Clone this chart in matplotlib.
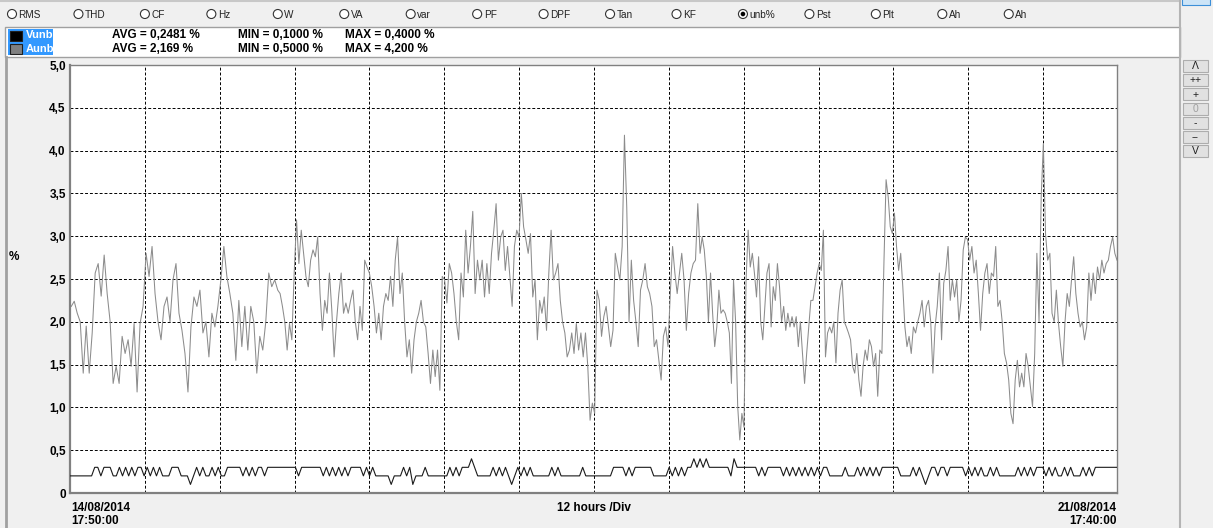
import numpy as np
import matplotlib
matplotlib.use("Agg")
import matplotlib.pyplot as plt
from matplotlib.patches import Rectangle, Circle

# ---- data ----
# Aunb (%), one list per ~34 h stretch of the record
aunb_1 = [2.18, 2.24, 2.10, 2.00, 1.40, 1.95, 1.40, 1.87, 2.57, 2.68, 2.30, 2.78, 2.33, 2.00, 1.28, 1.48, 1.28,
          1.83, 1.63, 1.79, 1.48, 1.98, 1.18, 1.98, 2.18, 2.80, 2.53, 2.88, 2.33, 2.00, 1.79, 2.18, 2.29, 2.00,
          2.49, 2.68, 2.10, 1.90, 1.63, 1.18, 1.94, 2.29, 2.18, 2.37, 1.87, 2.00, 1.59, 2.10, 1.94, 2.18, 2.49,
          2.88, 2.53, 2.33, 2.10, 1.55, 2.25, 1.71, 2.18, 1.67, 2.18, 2.00, 1.40, 1.83, 1.67, 2.00, 2.57, 2.41, 2.49]
aunb_2 = [2.37, 2.33, 2.18, 2.00, 1.67, 1.98, 1.79, 2.57, 3.19, 2.68, 3.07, 2.80, 2.53, 2.41, 2.72, 2.84, 2.76,
          2.99, 2.33, 1.90, 2.25, 2.10, 2.57, 2.14, 1.59, 2.00, 2.33, 2.57, 2.10, 2.22, 2.10, 2.25, 2.37, 2.00,
          1.79, 2.18, 1.90, 2.72, 2.64, 2.57, 2.41, 2.18, 1.87, 2.10, 1.79, 2.18, 2.33, 2.25, 2.53, 2.18, 2.72,
          2.99, 2.33, 2.57, 2.00, 1.59, 1.79, 1.40, 1.79, 2.00, 2.10, 2.25, 2.00, 1.94, 1.63, 1.28, 1.67, 1.36,
          1.67, 1.20, 2.53, 2.49, 2.22, 2.68, 2.57, 2.33, 2.00, 1.79, 2.57, 2.29, 3.07, 2.57, 2.88, 3.29, 2.33,
          2.72, 2.49, 2.72, 2.29, 2.68]
aunb_3 = [2.33, 2.80, 3.07, 3.38, 2.72, 2.99, 3.07, 2.60, 2.88, 2.53, 2.18, 2.88, 3.07, 2.99, 3.50, 3.11, 2.96,
          2.80, 3.03, 2.29, 2.49, 1.79, 2.25, 2.10, 2.29, 1.90, 2.57, 3.07, 2.49, 2.57, 2.68, 2.25, 2.00, 1.87,
          1.59, 1.67, 1.87, 1.63, 1.98, 1.67, 1.87, 1.59, 1.87, 1.48, 0.85, 1.05, 0.93, 2.37, 2.25, 1.83, 2.06,
          2.18, 1.94, 1.71, 1.90, 2.80, 2.64, 2.49, 2.88, 4.18, 3.34, 2.00, 2.72, 2.25, 2.00, 1.71, 2.37, 2.49,
          2.68, 2.41, 2.33, 2.18, 1.71, 1.79, 1.55, 1.32, 1.83, 1.94, 1.71, 2.33, 2.88, 2.57, 2.33, 2.57, 2.80,
          2.49, 1.90, 2.33, 2.57, 2.68, 2.72, 3.38]
aunb_4 = [2.80, 2.99, 2.84, 2.53, 2.00, 2.57, 2.10, 1.71, 1.94, 2.37, 2.10, 2.14, 2.10, 2.00, 1.87, 1.28, 2.49,
          2.00, 1.01, 0.62, 0.93, 0.77, 2.49, 3.07, 2.64, 2.80, 2.57, 2.29, 2.76, 2.00, 1.79, 2.18, 2.57, 2.68,
          1.94, 2.41, 2.25, 2.68, 2.41, 2.00, 2.18, 1.90, 2.10, 1.94, 2.06, 1.94, 2.06, 1.71, 2.00, 1.63, 1.28,
          1.63, 1.94, 2.25, 2.25, 2.41, 2.57, 2.68, 2.60, 3.07, 1.59, 1.87, 1.94, 1.87, 2.00, 1.52, 2.10, 2.37,
          2.49, 2.00, 1.94, 1.87, 1.79, 1.48, 1.40, 1.63, 1.32, 1.13, 1.48, 1.67, 1.55, 1.79, 1.71, 1.48, 1.63,
          1.13, 1.67, 1.63, 2.72, 3.66, 3.46, 3.11, 3.03, 3.27, 2.88, 2.60, 2.80, 2.41, 1.94, 1.71]
aunb_5 = [1.83, 1.63, 1.94, 1.87, 2.00, 2.10, 2.25, 1.94, 2.18, 2.25, 2.00, 1.40, 1.94, 2.18, 2.57, 1.79, 2.45,
          2.60, 2.88, 2.25, 2.49, 2.29, 2.49, 2.00, 2.25, 2.84, 2.99, 2.96, 2.72, 2.88, 2.57, 2.72, 2.33, 1.90,
          2.33, 2.57, 2.68, 2.33, 2.57, 2.53, 2.88, 2.18, 2.25, 2.00, 1.63, 1.52, 1.32, 0.93, 0.81, 1.32, 1.55,
          1.24, 1.40, 1.24, 1.63, 1.48, 1.24, 1.01, 1.63, 2.80, 2.00, 3.46, 4.08, 3.03, 2.72, 2.80, 2.10, 2.00,
          2.37, 1.98, 1.71, 1.48, 2.00, 2.33, 2.18, 2.49, 2.76, 2.33, 2.10, 1.94, 2.00, 1.79, 1.94, 2.57, 2.25,
          2.57, 2.33, 2.64, 2.49, 2.72, 2.57, 2.68, 2.72, 2.88, 2.99, 2.80, 2.72]
# start hour of each stretch, and end of record (14/08 17:50 -> 21/08 17:40)
seg_start = [0.2, 33.3, 67.2, 101.0, 134.5]
t_end = 167.83

# Vunb in tenths of %, same stretches
vunb_1 = "22222222332333223232323323232322233322212323223232233333232323323" + "3333"
vunb_2 = "333332333333323232323233332323222221222323122232222222323233343222" + "22"
vunb_3 = "3232321232323222222323222222232222222223333232333333222223232323343"
vunb_4 = "434333333324333333323233333232323232323233222223222323232323333332"
vunb_5 = "2223232123323323333323232322323222222323232333232322323222323233333333"

stats_avg = ["0,2481", "2,169"]
stats_min = ["0,1000", "0,5000"]
stats_max = ["0,4000", "4,200"]

radio_labels = ["RMS", "THD", "CF", "Hz", "W", "VA", "var", "PF", "DPF", "Tan", "KF",
                "unb%", "Pst", "Plt", "Ah", "Ah"]
selected = "unb%"
zoom_buttons = ["Λ", "++", "+", "0", "-", "--", "V"]

# ---- build series ----
aunb_segs = [aunb_1, aunb_2, aunb_3, aunb_4, aunb_5]
bounds = seg_start + [t_end]
t_a, v_a = [], []
for i, seg in enumerate(aunb_segs):
    t_a.append(np.linspace(bounds[i], bounds[i + 1], len(seg), endpoint=(i == 4)))
    v_a.append(seg)
t_a = np.concatenate(t_a)
v_a = np.concatenate(v_a)

vunb = np.array([int(c) for c in vunb_1 + vunb_2 + vunb_3 + vunb_4 + vunb_5]) / 10
t_v = np.linspace(0, t_end, len(vunb))

# ---- figure ----
W, H = 1213, 528
FONT = "Liberation Sans"
plt.rcParams["font.family"] = [FONT, "DejaVu Sans"]
fig = plt.figure(figsize=(W / 100, H / 100), dpi=100, facecolor="#f0f0f0")

ui = fig.add_axes([0, 0, 1, 1])
ui.set_xlim(0, W)
ui.set_ylim(H, 0)
ui.axis("off")

# top strip
ui.plot([0, 1180], [1, 1], color="#c8c8c8", lw=1.5)
ui.add_patch(Rectangle((1182, -2), 28, 7, facecolor="#cce4f7", edgecolor="#3c8fd8", lw=0.8))
for i, lab in enumerate(radio_labels):
    cx = 12 + 66.45 * i
    ui.add_patch(Circle((cx, 14), 4.5, facecolor="white", edgecolor="#333333", lw=0.8))
    if lab == selected:
        ui.add_patch(Circle((cx, 14), 2.3, facecolor="black", edgecolor="none"))
    ui.text(cx + 6.5, 14.5, lab, fontsize=7.2, va="center", ha="left", color="#222222")

# legend box
ui.add_patch(Rectangle((5, 27), 1175, 30, facecolor="white", edgecolor="#a0a0a0", lw=1))
for row, (name, sq) in enumerate([("Vunb", "black"), ("Aunb", "#808080")]):
    y0 = 29 + 13 * row
    ui.add_patch(Rectangle((8, y0), 45, 13, facecolor="#3399ff", edgecolor="none"))
    ui.add_patch(Rectangle((10, y0 + 1.5), 12, 10, facecolor=sq, edgecolor="#202020", lw=0.8))
    ui.text(26, y0 + 6.5, name, fontsize=8, fontweight="bold", color="white", va="center")
    ui.text(112, y0 + 6.5, f"AVG = {stats_avg[row]} %", fontsize=8.5, fontweight="bold", va="center")
    ui.text(238, y0 + 6.5, f"MIN = {stats_min[row]} %", fontsize=8.5, fontweight="bold", va="center")
    ui.text(345, y0 + 6.5, f"MAX = {stats_max[row]} %", fontsize=8.5, fontweight="bold", va="center")

# panel borders
ui.plot([6, 6], [57, H], color="#a0a0a0", lw=2)
ui.plot([1180, 1180], [0, H], color="#b4b4b4", lw=1.5)

# zoom buttons on the right
for i, lab in enumerate(zoom_buttons):
    y0 = 60 + 14.2 * i
    ui.add_patch(Rectangle((1183, y0), 25, 12, facecolor="#e1e1e1", edgecolor="#adadad", lw=0.8))
    ui.text(1195.5, y0 + 6.3, lab, fontsize=7.5, ha="center", va="center",
            color="#a0a0a0" if lab == "0" else "#202020")

# axis annotations
ui.text(9, 257, "%", fontsize=8.5, fontweight="bold", va="center")
ui.text(71, 508, "14/08/2014", fontsize=8.5, fontweight="bold", va="center")
ui.text(71, 521, "17:50:00", fontsize=8.5, fontweight="bold", va="center")
ui.text(594, 508, "12 hours /Div", fontsize=8.5, fontweight="bold", va="center", ha="center")
ui.text(1117, 508, "21/08/2014", fontsize=8.5, fontweight="bold", va="center", ha="right")
ui.text(1117, 521, "17:40:00", fontsize=8.5, fontweight="bold", va="center", ha="right")

# ---- plot area ----
ax = fig.add_axes([70 / W, (H - 493) / H, 1047 / W, 428 / H])
ax.set_facecolor("white")
ax.set_xlim(0, t_end)
ax.set_ylim(0, 5)

for h in range(12, 168, 12):
    ax.axvline(h, color="black", lw=0.7, ls=(0, (3, 2)), zorder=1)
for v in np.arange(0.5, 5.0, 0.5):
    ax.axhline(v, color="black", lw=0.7, ls=(0, (3, 2)), zorder=1)

ax.plot(t_a, v_a, color="#8c8c8c", lw=0.75, zorder=2)
ax.plot(t_v, vunb, color="#1a1a1a", lw=0.8, zorder=3)

yt = np.arange(0, 5.01, 0.5)
ax.set_yticks(yt)
ax.set_yticklabels(["0"] + [f"{v:.1f}".replace(".", ",") for v in yt[1:]],
                   fontsize=8.5, fontweight="bold")
ax.tick_params(axis="y", length=0, pad=3)
ax.set_xticks([])
for side in ["left", "bottom"]:
    ax.spines[side].set_color("#808080")
    ax.spines[side].set_linewidth(1.6)
for side in ["top", "right"]:
    ax.spines[side].set_color("#808080")
    ax.spines[side].set_linewidth(1.0)

fig.savefig("out.png", dpi=100, facecolor=fig.get_facecolor())
